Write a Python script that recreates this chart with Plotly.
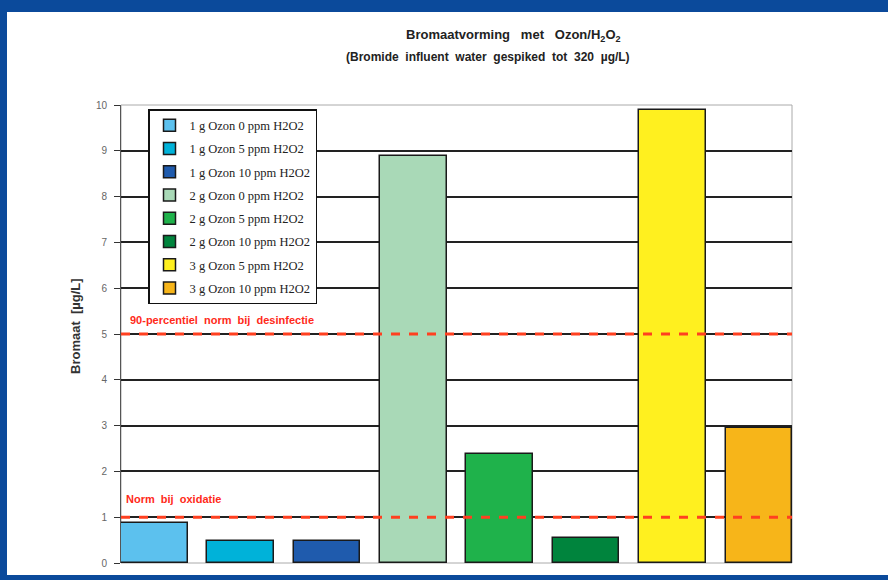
import plotly.graph_objects as go

series_names = [
    "1 g Ozon 0 ppm H2O2",
    "1 g Ozon 5 ppm H2O2",
    "1 g Ozon 10 ppm H2O2",
    "2 g Ozon 0 ppm H2O2",
    "2 g Ozon 5 ppm H2O2",
    "2 g Ozon 10 ppm H2O2",
    "3 g Ozon 5 ppm H2O2",
    "3 g Ozon 10 ppm H2O2",
]
bromaat_values = [0.88, 0.48, 0.48, 8.89, 2.39, 0.54, 9.89, 2.95]
bar_colors = ["#5cc1ee", "#00b2d9", "#1f5bad", "#a9d9b7", "#1fb24b",
              "#00843d", "#fff01f", "#f7b519"]
norm_levels = [5, 1]
norm_labels = ["90-percentiel  norm  bij  desinfectie", "Norm  bij  oxidatie"]
y_ticks = list(range(0, 11))

W, H = 888, 580
L, R, T, B = 121, 96, 105, 17
PW, PH = W - L - R, H - T - B


def px(x):
    return (x - L) / PW


def py(y):
    return (H - B - y) / PH


fig = go.Figure()
for i, (name, val, col) in enumerate(zip(series_names, bromaat_values, bar_colors)):
    fig.add_trace(go.Bar(
        x=[i], y=[val], name=name, width=0.77,
        marker=dict(color=col, line=dict(color="#1a1a1a", width=1.5)),
        legendgroup=f"g{i}",
    ))

for lvl in norm_levels:
    fig.add_shape(type="line", xref="paper", yref="y", x0=0, x1=1, y0=lvl, y1=lvl,
                  line=dict(color="#ff4020", width=3, dash="dash"), layer="above")

fig.add_annotation(xref="paper", yref="y", x=px(128), y=norm_levels[0], yshift=14,
                   text=f"<b>{norm_labels[0]}</b>", showarrow=False, xanchor="left",
                   font=dict(family="Liberation Sans, Arial", size=11, color="#ff2a1a"))
fig.add_annotation(xref="paper", yref="y", x=px(124), y=norm_levels[1], yshift=18,
                   text=f"<b>{norm_labels[1]}</b>", showarrow=False, xanchor="left",
                   font=dict(family="Liberation Sans, Arial", size=11, color="#ff2a1a"))

# Titles
fig.add_annotation(xref="paper", yref="paper", x=px(513), y=py(36),
                   xanchor="center", yanchor="middle", showarrow=False,
                   text="<b>Bromaatvorming   met   Ozon/H<sub>2</sub>O<sub>2</sub></b>",
                   font=dict(family="Liberation Sans, Arial", size=13, color="#222"))
fig.add_annotation(xref="paper", yref="paper", x=px(488), y=py(57),
                   xanchor="center", yanchor="middle", showarrow=False,
                   text="<b>(Bromide  influent  water  gespiked  tot  320  µg/L)</b>",
                   font=dict(family="Liberation Sans, Arial", size=12, color="#222"))

# Y-axis title
fig.add_annotation(xref="paper", yref="paper", x=px(75), y=py(326),
                   xanchor="center", yanchor="middle", showarrow=False, textangle=-90,
                   text="<b>Bromaat  [µg/L]</b>",
                   font=dict(family="Liberation Sans, Arial", size=13, color="#333"))

# Blue frame
frame_col = "#0b4a9b"
for x0, x1, y0, y1 in [(0, W, 0, 12), (0, 7, 0, H), (0, W, 575, H)]:
    fig.add_shape(type="rect", xref="paper", yref="paper",
                  x0=px(x0), x1=px(x1), y0=py(y1), y1=py(y0),
                  line=dict(width=0), fillcolor=frame_col, layer="above")

# plot area frame (light)
fig.add_shape(type="rect", xref="paper", yref="paper", x0=0, x1=1, y0=0, y1=1,
              line=dict(color="#aaa", width=1), layer="below")

fig.update_layout(
    width=W, height=H,
    margin=dict(l=L, r=R, t=T, b=B),
    paper_bgcolor="white", plot_bgcolor="white",
    showlegend=True,
    legend=dict(x=px(148), y=py(109), xanchor="left", yanchor="top",
                bgcolor="white", bordercolor="#111", borderwidth=1.5,
                font=dict(family="Liberation Serif, Times New Roman", size=12.5, color="#222"),
                traceorder="grouped", tracegroupgap=4),
    xaxis=dict(range=[-0.385, 7.385], showticklabels=False, showgrid=False,
               zeroline=False, showline=False, ticks=""),
    yaxis=dict(range=[0, 10], tickvals=y_ticks, showgrid=True, gridcolor="#222",
               gridwidth=1.5, zeroline=False, showline=True, linecolor="#555",
               linewidth=1, ticks="outside", ticklen=6, tickcolor="#333",
               ticklabelstandoff=5,
               tickfont=dict(family="Liberation Sans, Arial", size=10, color="#666")),
    bargap=0,
)

fig.write_html("out.html")
